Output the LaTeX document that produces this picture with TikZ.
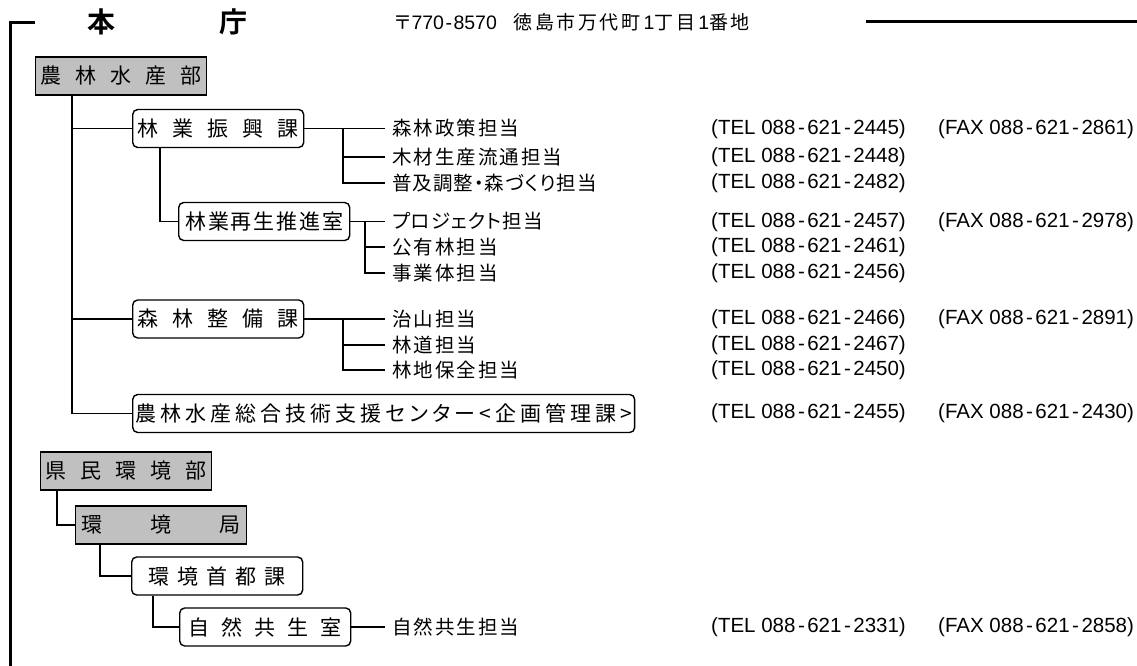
\documentclass[tikz,border=0pt]{standalone}
\usepackage{fontspec}
\setmainfont{Liberation Sans}
\newfontfamily\jp[BoldFont={Noto Sans CJK JP Bold},RawFeature=+palt]{Noto Sans CJK JP}
\definecolor{deptgray}{HTML}{C0C0C0}

% spread the characters of a label apart
\newcommand{\tracked}[2]{\def\trk{#1}\trackfirst#2\relax}
\def\trackfirst#1{#1\trackrest}
\def\trackrest#1{\ifx#1\relax\else\hspace{\trk}#1\expandafter\trackrest\fi}
\newcommand{\dash}{\kern2.5pt-\kern2.5pt}
\newcommand{\addrjp}{\jp\fontsize{19pt}{19pt}\selectfont}

\tikzstyle{frame}=[line width=3pt]
\tikzstyle{wire}=[line width=1.3pt]
\tikzstyle{unit}=[draw, line width=1.4pt, anchor=west, minimum width=171pt, minimum height=38pt, inner xsep=3pt, font=\jp\fontsize{21pt}{21pt}\selectfont]
\tikzstyle{dept}=[unit, fill=deptgray]
\tikzstyle{office}=[unit, fill=white, rounded corners=5pt]
\tikzstyle{duty}=[anchor=west, inner xsep=7pt, inner ysep=0pt, font=\jp\fontsize{19.5pt}{19.5pt}\selectfont]
\tikzstyle{phone}=[anchor=west, inner sep=0pt, font=\fontsize{20.5pt}{20.5pt}\selectfont]

\begin{document}
\begin{tikzpicture}[x=1pt, y=-1pt]
  \useasboundingbox (0,0) rectangle (1137,666);
  % heading
  \draw[frame] (35,23) -| (10,666);
  \draw[frame] (866,22) -- (1137,22);
  \node[font=\jp\bfseries\fontsize{28pt}{28pt}\selectfont] (hon) at (101,22) {本};
  \node[font=\jp\bfseries\fontsize{28pt}{28pt}\selectfont] (cho) at (233,22) {庁};
  \node[anchor=west, inner sep=0pt, font=\fontsize{19.5pt}{19.5pt}\selectfont] (addr) at (395,22)
    {{\addrjp 〒}770\kern1.5pt-\kern1.5pt8570\hspace{17pt}{\addrjp\tracked{2.5pt}{徳島市万代町}}\,1{\addrjp\tracked{2.5pt}{丁目}}\,1{\addrjp\tracked{2.5pt}{番地}}};

  % 農林水産部
  \node[dept] (norin) at (35,76) {\tracked{14pt}{農林水産部}};
  \node[office] (shinko) at (132,128.5) {\tracked{14pt}{林業振興課}};
  \node[office] (saisei) at (178,221.5) {\tracked{1.8pt}{林業再生推進室}};
  \node[office] (seibi) at (132,319) {\tracked{14pt}{森林整備課}};
  \node[office] (gijutsu) at (132,413.5) {\tracked{4pt}{農林水産総合技術支援センター<企画管理課>}};
  \coordinate (trunk) at (72,0);
  \draw[wire] (trunk |- norin.south) |- (gijutsu.west);
  \draw[wire] (trunk |- shinko.west) -- (shinko.west);
  \draw[wire] (trunk |- seibi.west) -- (seibi.west);
  \draw[wire] (shinko.south -| 160,0) |- (saisei.west);

  \node[duty] (seisaku) at (385,128.5) {\tracked{2pt}{森林政策担当}};
  \node[duty] (ryutsu) at (385,157) {\tracked{2pt}{木材生産流通担当}};
  \node[duty] (fukyu) at (385,183) {\tracked{1pt}{普及調整・森づくり担当}};
  \coordinate (fork1) at (343,0);
  \draw[wire] (shinko.east) -- (seisaku.west);
  \draw[wire] (fork1 |- seisaku.west) |- (fukyu.west);
  \draw[wire] (fork1 |- ryutsu.west) -- (ryutsu.west);

  \node[duty] (project) at (385,221.5) {\tracked{1pt}{プロジェクト担当}};
  \node[duty] (koyu) at (385,247) {\tracked{2pt}{公有林担当}};
  \node[duty] (jigyo) at (385,273) {\tracked{2pt}{事業体担当}};
  \coordinate (fork2) at (365,0);
  \draw[wire] (saisei.east) -- (project.west);
  \draw[wire] (fork2 |- project.west) |- (jigyo.west);
  \draw[wire] (fork2 |- koyu.west) -- (koyu.west);

  \node[duty] (chisan) at (385,319) {\tracked{2pt}{治山担当}};
  \node[duty] (rindo) at (385,345) {\tracked{2pt}{林道担当}};
  \node[duty] (hozen) at (385,370) {\tracked{2pt}{林地保全担当}};
  \coordinate (fork3) at (343,0);
  \draw[wire] (seibi.east) -- (chisan.west);
  \draw[wire] (fork3 |- chisan.west) |- (hozen.west);
  \draw[wire] (fork3 |- rindo.west) -- (rindo.west);

  % 県民環境部
  \node[dept] (kenmin) at (40,471) {\tracked{14pt}{県民環境部}};
  \node[dept] (kankyo) at (75,525) {\tracked{48pt}{環境局}};
  \node[office] (shuto) at (131,576) {\tracked{8pt}{環境首都課}};
  \node[office] (shizen) at (179,627) {\tracked{12pt}{自然共生室}};
  \draw[wire] (kenmin.south -| 57,0) |- (kankyo.west);
  \draw[wire] (kankyo.south -| 100,0) |- (shuto.west);
  \draw[wire] (shuto.south -| 153,0) |- (shizen.west);
  \node[duty] (kyosei) at (385,627) {\tracked{2pt}{自然共生担当}};
  \draw[wire] (shizen.east) -- (kyosei.west);

  % telephone and fax
  \node[phone] (tel1) at (711,129) {(TEL 088\dash621\dash2445)};
  \node[phone] (fax1) at (938,129) {(FAX 088\dash621\dash2861)};
  \node[phone] (tel2) at (711,157) {(TEL 088\dash621\dash2448)};
  \node[phone] (tel3) at (711,183) {(TEL 088\dash621\dash2482)};
  \node[phone] (tel4) at (711,222) {(TEL 088\dash621\dash2457)};
  \node[phone] (fax4) at (938,222) {(FAX 088\dash621\dash2978)};
  \node[phone] (tel5) at (711,247) {(TEL 088\dash621\dash2461)};
  \node[phone] (tel6) at (711,273) {(TEL 088\dash621\dash2456)};
  \node[phone] (tel7) at (711,319) {(TEL 088\dash621\dash2466)};
  \node[phone] (fax7) at (938,319) {(FAX 088\dash621\dash2891)};
  \node[phone] (tel8) at (711,345) {(TEL 088\dash621\dash2467)};
  \node[phone] (tel9) at (711,370) {(TEL 088\dash621\dash2450)};
  \node[phone] (tel10) at (711,413) {(TEL 088\dash621\dash2455)};
  \node[phone] (fax10) at (938,413) {(FAX 088\dash621\dash2430)};
  \node[phone] (tel11) at (711,627) {(TEL 088\dash621\dash2331)};
  \node[phone] (fax11) at (938,627) {(FAX 088\dash621\dash2858)};
\end{tikzpicture}
\end{document}
